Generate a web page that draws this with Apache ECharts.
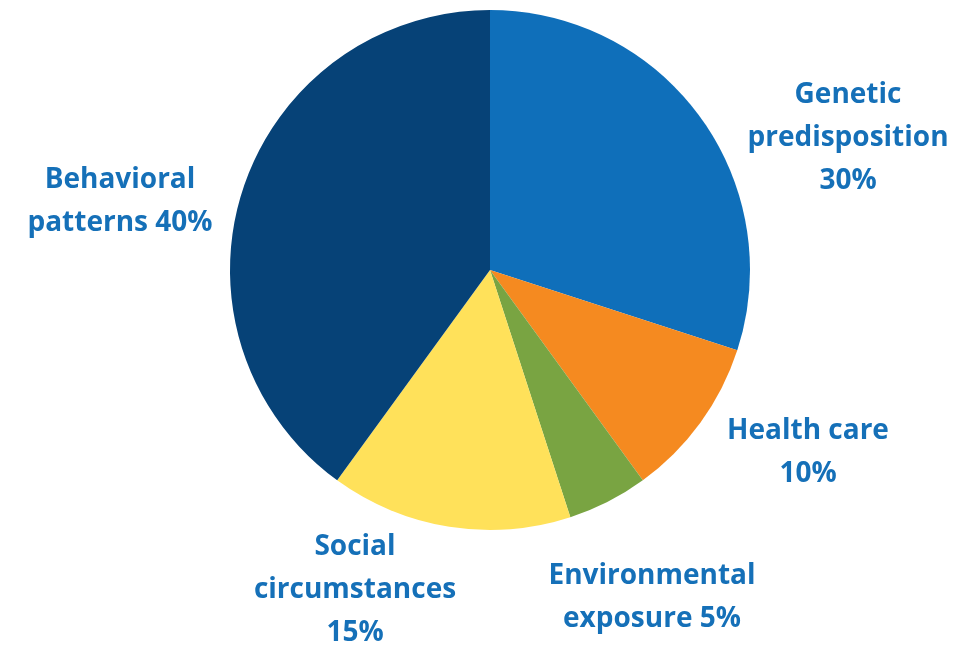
<!DOCTYPE html>
<html><head><meta charset="utf-8">
<script src="https://cdn.jsdelivr.net/npm/echarts@6/dist/echarts.min.js"></script>
<style>html,body{margin:0;padding:0;background:#fff}#c{width:959px;height:646px}</style>
</head><body><div id="c"></div>
<script>
var categories = ["Genetic\npredisposition", "Health care", "Environmental\nexposure", "Social\ncircumstances", "Behavioral\npatterns"];
var values = [30, 10, 5, 15, 40];
var labelTexts = ["Genetic\npredisposition\n30%", "Health care\n10%", "Environmental\nexposure 5%", "Social\ncircumstances\n15%", "Behavioral\npatterns 40%"];
var colors = ["#0F6FBA", "#F58A20", "#79A442", "#FFE15A", "#064277"];
var labelPos = [[848, 138], [808, 453], [652, 598], [355, 590], [120, 202]];

var chart = echarts.init(document.getElementById('c'));
chart.setOption({
  animation: false,
  series: [{
    type: 'pie',
    center: [490, 270],
    radius: 260,
    startAngle: 90,
    clockwise: true,
    data: categories.map(function (c, i) {
      return { name: c, value: values[i], itemStyle: { color: colors[i] },
        label: { formatter: labelTexts[i] } };
    }),
    label: {
      show: true, position: 'outside', overflow: 'none', bleedMargin: 0,
      color: '#1570B8', fontFamily: 'Open Sans', fontWeight: 'bold',
      fontSize: 28, lineHeight: 43, align: 'center'
    },
    labelLine: { show: false },
    labelLayout: function (p) {
      return { x: labelPos[p.dataIndex][0], y: labelPos[p.dataIndex][1], align: 'center', verticalAlign: 'middle' };
    },
    itemStyle: { borderWidth: 0 }
  }]
});
</script></body></html>
